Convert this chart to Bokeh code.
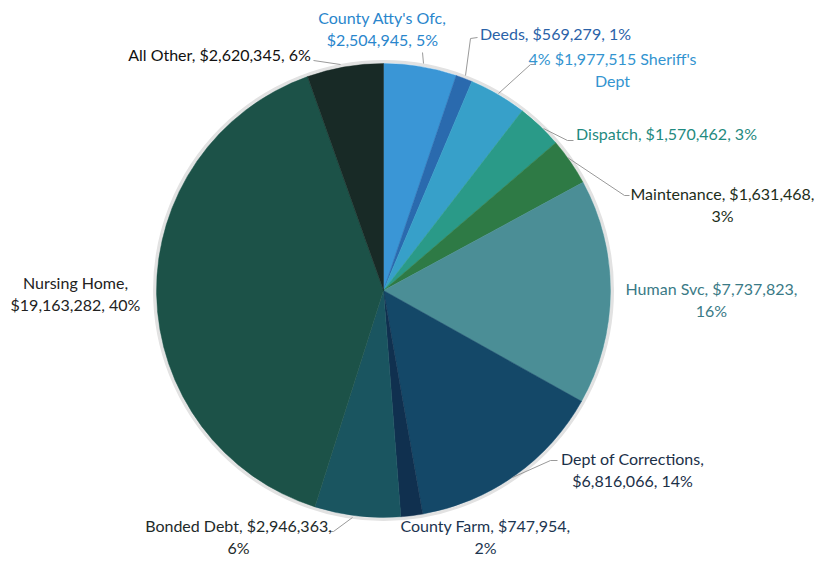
import math
from bokeh.plotting import figure
from bokeh.models import Range1d, ColumnDataSource
from bokeh.core.properties import value
from bokeh.embed import file_html
from bokeh.resources import INLINE

# ---- data ----
categories = ["County Atty's Ofc", "Deeds", "Sheriff's Dept", "Dispatch", "Maintenance",
              "Human Svc", "Dept of Corrections", "County Farm", "Bonded Debt",
              "Nursing Home", "All Other"]
amounts = [2504945, 569279, 1977515, 1570462, 1631468, 7737823, 6816066, 747954,
           2946363, 19163282, 2620345]
percents = [5, 1, 4, 3, 3, 16, 14, 2, 6, 40, 6]
label_texts = [
    "County Atty's Ofc,\n$2,504,945, 5%",
    "Deeds, $569,279, 1%",
    "4% $1,977,515 Sheriff's\nDept",
    "Dispatch, $1,570,462, 3%",
    "Maintenance, $1,631,468,\n3%",
    "Human Svc, $7,737,823,\n16%",
    "Dept of Corrections,\n$6,816,066, 14%",
    "County Farm, $747,954,\n2%",
    "Bonded Debt, $2,946,363,\n6%",
    "Nursing Home,\n$19,163,282, 40%",
    "All Other, $2,620,345, 6%",
]

# ---- styles / layout ----
slice_colors = ["#3a96d6", "#2a6aae", "#37a0c9", "#2a9a88", "#2e7a45", "#4b8e96",
                "#144868", "#10304f", "#1a5560", "#1c5248", "#182a26"]
text_colors = ["#2a86cc", "#2a62a8", "#3394d0", "#1f8a80", "#1d2e1a", "#3a7a86",
               "#1b3048", "#1c3550", "#1e2a2a", "#222222", "#111111"]

W, H = 817, 559
def Y(py):
    return H - py

cx, cy, R = 383, Y(290), 227
LINE_GAP = 22

# first-line centre of each label, in page pixels
label_pos = [(382, 17), (555, 33), (612, 58), (666, 133), (722, 193), (711, 288),
             (632, 458), (485, 525), (238, 525), (75, 282), (219, 54)]
leaders = [
    [(422, 52), (423, 63)],
    [(477, 37), (470, 38), (465, 75)],
    [(535, 64), (530, 64), (498, 93)],
    [(543, 128), (567, 140), (573, 140)],
    [(567, 157), (624, 195), (629, 195)],
    None,
    [(512, 477), (550, 460), (557, 460)],
    None,
    [(328, 531), (333, 531), (352, 517)],
    None,
    [(313, 60), (340, 64)],
]

total = float(sum(amounts))
starts, ends = [], []
acc = 0.0
for a in amounts:
    starts.append(math.pi / 2 - 2 * math.pi * acc / total)
    acc += a
    ends.append(math.pi / 2 - 2 * math.pi * acc / total)

p = figure(width=W, height=H, output_backend="svg", toolbar_location=None,
           x_range=Range1d(0, W), y_range=Range1d(0, H),
           min_border=0)
p.axis.visible = False
p.grid.visible = False
p.outline_line_color = None
p.background_fill_color = "white"

# soft halo around the pie
p.circle(x=[cx], y=[cy], radius=R + 2, fill_color=None, line_color="#e2e2e2", line_width=3)

src = ColumnDataSource(dict(start=starts, end=ends, color=slice_colors))
p.wedge(x=cx, y=cy, radius=R, start_angle="start", end_angle="end",
        direction="clock", fill_color="color", line_color="color", line_width=0.5,
        source=src)

for ld in leaders:
    if ld:
        p.line([q[0] for q in ld], [Y(q[1]) for q in ld], line_color="#9a9a9a", line_width=1)

xs, ys, txt, cols = [], [], [], []
for (lx, ly), t, c in zip(label_pos, label_texts, text_colors):
    for i, line in enumerate(t.split("\n")):
        xs.append(lx)
        ys.append(Y(ly + i * LINE_GAP))
        txt.append(line)
        cols.append(c)

tsrc = ColumnDataSource(dict(x=xs, y=ys, text=txt, color=cols))
p.text(x="x", y="y", text="text", text_color="color", source=tsrc,
       text_align="center", text_baseline="middle", text_font=value("Lato"),
       text_font_size="16px")

open("out.html", "w").write(file_html(p, INLINE))
